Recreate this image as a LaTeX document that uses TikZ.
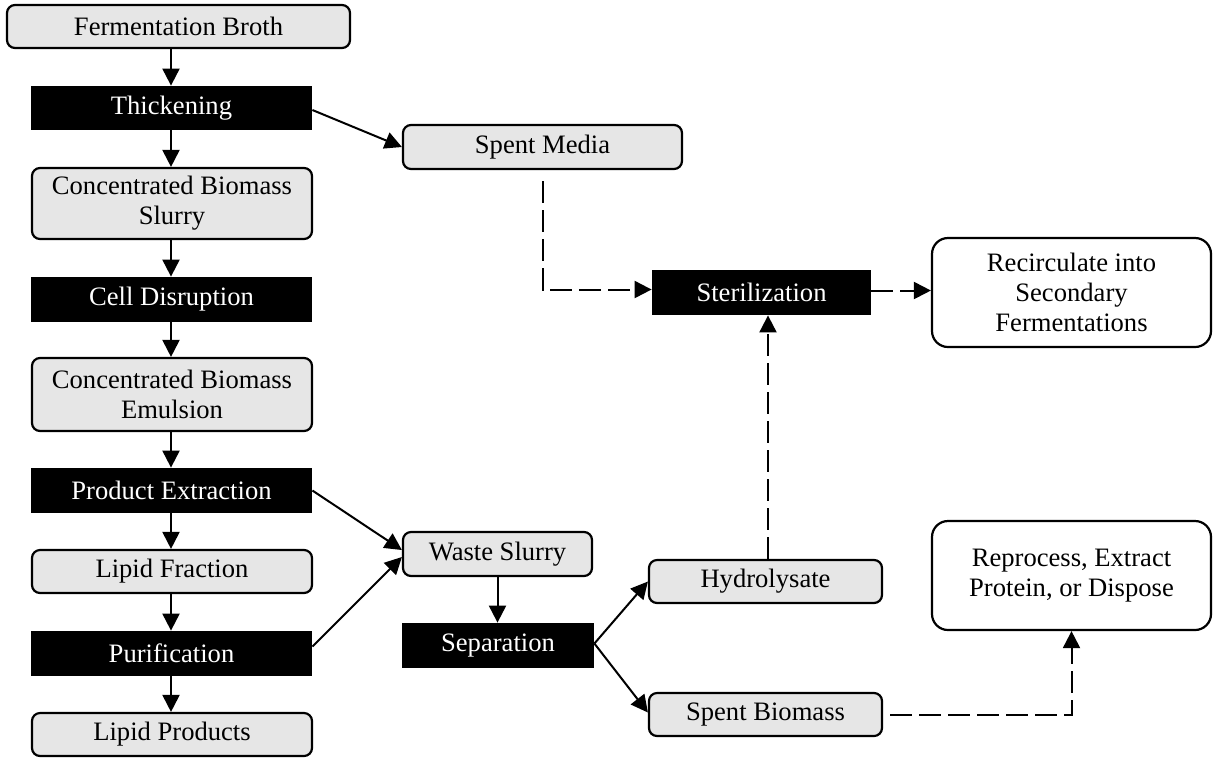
\documentclass[tikz,border=0pt]{standalone}
\usepackage{fontspec}
\setmainfont{Liberation Serif}
\usetikzlibrary{arrows.meta,calc}
\definecolor{boxgray}{HTML}{E6E6E6}
\begin{document}
\begin{tikzpicture}[x=0.5pt,y=-0.5pt,
  every node/.style={font=\fontsize{13.3}{15}\selectfont, inner sep=0pt, align=center},
  graybox/.style={draw=black, line width=1.1pt, fill=boxgray, rounded corners=4pt},
  blackbox/.style={draw=none, fill=black, text=white},
  whitebox/.style={draw=black, line width=1.1pt, fill=white, rounded corners=8pt},
  arr/.style={line width=1pt, -{Triangle[length=8.5pt,width=8.5pt]}},
  darr/.style={line width=1pt, dash pattern=on 11pt off 3.5pt, -{Triangle[length=8.5pt,width=8.5pt]}}]
\useasboundingbox (0,0) rectangle (1213,757);
% left column
\node[graybox, minimum width=171.5pt, minimum height=21.5pt] (fb) at (178.5,26.5) {Fermentation Broth};
\node[blackbox, minimum width=140.5pt, minimum height=22pt] (thick) at (171.5,108) {Thickening};
\node[graybox, minimum width=140pt, minimum height=35.5pt] (cbs) at (172,203.5) {Concentrated Biomass\\Slurry};
\node[blackbox, minimum width=140.5pt, minimum height=22.5pt] (cd) at (171.5,299.5) {Cell Disruption};
\node[graybox, minimum width=140pt, minimum height=36.5pt] (cbe) at (172,394.5) {Concentrated Biomass\\Emulsion};
\node[blackbox, minimum width=140.5pt, minimum height=22.5pt] (pe) at (171.5,490.5) {Product Extraction};
\node[graybox, minimum width=140pt, minimum height=21.5pt] (lf) at (172,571.5) {Lipid Fraction};
\node[blackbox, minimum width=140.5pt, minimum height=22.5pt] (pur) at (171.5,653.5) {Purification};
\node[graybox, minimum width=140pt, minimum height=21.5pt] (lp) at (172,734.5) {Lipid Products};
% middle / right
\node[graybox, minimum width=139.5pt, minimum height=22pt] (sm) at (542.5,147) {Spent Media};
\node[blackbox, minimum width=109.5pt, minimum height=22.5pt] (ster) at (761.5,292.5) {Sterilization};
\node[whitebox, minimum width=139.5pt, minimum height=54.5pt] (rec) at (1071.5,292.5) {Recirculate into\\Secondary\\Fermentations};
\node[graybox, minimum width=94.5pt, minimum height=22pt] (ws) at (497.5,554) {Waste Slurry};
\node[blackbox, minimum width=96pt, minimum height=22.5pt] (sep) at (498,645.5) {Separation};
\node[graybox, minimum width=116.5pt, minimum height=21.5pt] (hyd) at (765.5,581.5) {Hydrolysate};
\node[graybox, minimum width=116.5pt, minimum height=21.5pt] (sb) at (765.5,714.5) {Spent Biomass};
\node[whitebox, minimum width=139.5pt, minimum height=54.5pt] (rep) at (1071.5,575.5) {Reprocess, Extract\\Protein, or Dispose};
\coordinate (colx) at (171,0);
\coordinate (hx) at (768,0);
% left column arrows
\draw[arr] (fb.south -| colx) -- (thick.north -| colx);
\draw[arr] (thick.south -| colx) -- (cbs.north -| colx);
\draw[arr] (cbs.south -| colx) -- (cd.north -| colx);
\draw[arr] (cd.south -| colx) -- (cbe.north -| colx);
\draw[arr] (cbe.south -| colx) -- (pe.north -| colx);
\draw[arr] (pe.south -| colx) -- (lf.north -| colx);
\draw[arr] (lf.south -| colx) -- (pur.north -| colx);
\draw[arr] (pur.south -| colx) -- (lp.north -| colx);
% side arrows
\draw[arr] ($(thick.east)+(0,2)$) -- (sm.west);
\draw[arr] (pe.east) -- ($(ws.west)+(0,-4)$);
\draw[arr] ($(pur.east)+(0,-7)$) -- ($(ws.west)+(0,3)$);
\draw[arr] (ws.south) -- (ws.south |- sep.north);
\draw[arr] ($(sep.east)+(0,-2)$) -- (hyd.west);
\draw[arr] ($(sep.east)+(0,-2)$) -- ($(sb.west)+(0,-2)$);
% dashed arrows
\draw[darr] ($(sm.south)+(0,11)$) |- ($(ster.west)+(0,-3)$);
\draw[darr] ($(ster.east)+(0,-2)$) -- ($(rec.west)+(0,-2)$);
\draw[darr] (hyd.north -| hx) -- (ster.south -| hx);
\draw[darr] ($(sb.east)+(7,0)$) -| (rep.south);
\end{tikzpicture}
\end{document}
